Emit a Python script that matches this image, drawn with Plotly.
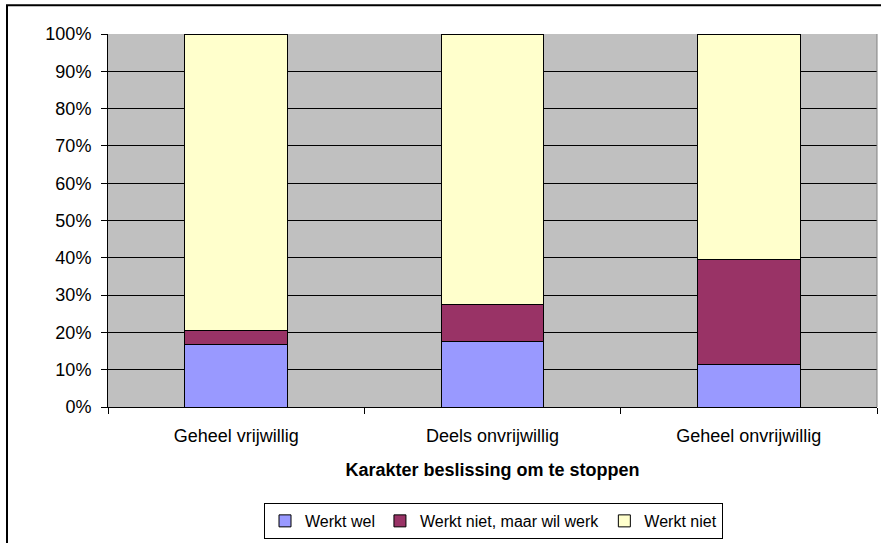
import plotly.graph_objects as go

categories = ["Geheel vrijwillig", "Deels onvrijwillig", "Geheel onvrijwillig"]
werkt_wel = [0.168, 0.175, 0.115]
wil_werk = [0.036, 0.101, 0.281]
werkt_niet = [0.796, 0.724, 0.604]

series = [
    ("Werkt wel", werkt_wel, "#9999FF"),
    ("Werkt niet, maar wil werk", wil_werk, "#993366"),
    ("Werkt niet", werkt_niet, "#FFFFCC"),
]

FONT = "Liberation Sans, Arial, sans-serif"

fig = go.Figure()
for name, vals, col in series:
    fig.add_trace(go.Bar(
        x=categories, y=vals, name=name,
        marker=dict(color=col, line=dict(color="black", width=1)),
    ))

W, H = 881, 543
L, R, T, B = 108, 4, 34, 132
pw, ph = W - L - R, H - T - B

def px_x(x):
    return (x - L) / pw

def px_y(y):
    return (H - B - y) / ph

fig.update_layout(
    width=W, height=H,
    margin=dict(l=L, r=R, t=T, b=B),
    barmode="stack",
    bargap=0.6,
    plot_bgcolor="#C0C0C0",
    paper_bgcolor="white",
    font=dict(family=FONT, size=18, color="black"),
    showlegend=True,
    legend=dict(
        orientation="h",
        x=px_x(723), xanchor="right",
        y=px_y(508), yanchor="top",
        bordercolor="black", borderwidth=1,
        bgcolor="white",
        font=dict(family=FONT, size=16, color="black"),
        traceorder="normal",
        itemwidth=30,
    ),
    xaxis=dict(
        showline=True, linecolor="black", linewidth=1,
        ticks="outside", ticklen=6, tickcolor="black",
        tickson="boundaries",
        ticklabelstandoff=12,
        tickfont=dict(family=FONT, size=18),
        title=dict(text="<b>Karakter beslissing om te stoppen</b>",
                   font=dict(family=FONT, size=18), standoff=18),
        automargin=False,
    ),
    yaxis=dict(
        range=[0, 1], dtick=0.1, tickformat=".0%",
        showline=True, linecolor="black", linewidth=1,
        ticks="outside", ticklen=6, tickcolor="black",
        ticklabelstandoff=6,
        showgrid=True, gridcolor="black", gridwidth=1,
        zeroline=False,
        tickfont=dict(family=FONT, size=18),
        automargin=False,
    ),
    shapes=[
        # plot area right border
        dict(type="line", xref="paper", yref="paper", x0=1, x1=1, y0=0, y1=1,
             line=dict(color="#808080", width=1)),
        # outer chart frame (cropped on right and bottom)
        dict(type="rect", xref="paper", yref="paper",
             x0=px_x(7), x1=px_x(900), y0=px_y(5), y1=px_y(560),
             line=dict(color="black", width=2), fillcolor="rgba(0,0,0,0)",
             layer="above"),
    ],
)

fig.write_html(
    "out.html",
    config={"displayModeBar": False},
    post_script="document.body.style.margin='0';document.body.style.padding='0';",
)
